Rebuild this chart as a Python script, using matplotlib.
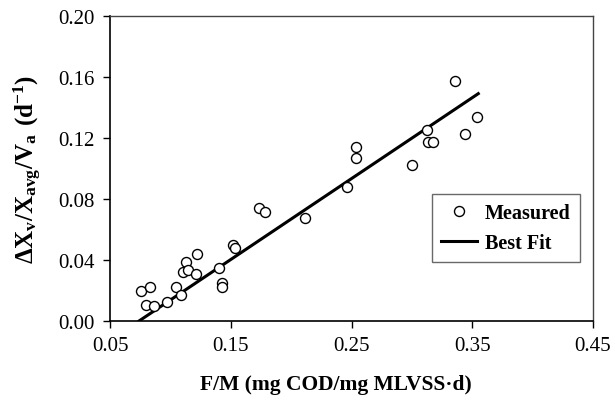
import matplotlib
matplotlib.use("Agg")
import matplotlib.pyplot as plt
import numpy as np

# Measured data (F/M, specific growth)
fm = [0.0757, 0.0831, 0.0796, 0.0865, 0.0970, 0.1050, 0.1086, 0.1130, 0.1107, 0.1146,
      0.1215, 0.1223, 0.1400, 0.1425, 0.1428, 0.1522, 0.1536, 0.1737, 0.1782, 0.2118,
      0.2464, 0.2538, 0.2538, 0.3000, 0.3126, 0.3137, 0.3174, 0.3358, 0.3440, 0.3540]
growth = [0.0195, 0.0225, 0.0105, 0.0100, 0.0124, 0.0225, 0.0168, 0.0388, 0.0323, 0.0336,
          0.0306, 0.0437, 0.0345, 0.0251, 0.0225, 0.0500, 0.0478, 0.0739, 0.0713, 0.0673,
          0.0876, 0.1142, 0.1068, 0.1020, 0.1250, 0.1170, 0.1170, 0.1570, 0.1223, 0.1334]

# Best-fit line
fit_slope = 0.530
fit_x0 = 0.074          # x-intercept
fit_range = [0.074, 0.355]

x_ticks = [0.05, 0.15, 0.25, 0.35, 0.45]
y_ticks = [0.00, 0.04, 0.08, 0.12, 0.16, 0.20]

plt.rcParams['font.family'] = ['Liberation Serif', 'DejaVu Serif']
plt.rcParams['mathtext.fontset'] = 'custom'
plt.rcParams['mathtext.rm'] = 'Liberation Serif'
plt.rcParams['mathtext.bf'] = 'Liberation Serif:bold'

fig = plt.figure(figsize=(6.15, 4.1), dpi=100)
ax = fig.add_axes([0.1789, 0.2146, 0.9642 - 0.1789, 0.9593 - 0.2146])

ax.plot(fm, growth, linestyle='none', marker='o', markersize=7.2,
        markerfacecolor='white', markeredgecolor='black', markeredgewidth=1.0,
        label='Measured', zorder=3)
xf = np.array(fit_range)
yf = fit_slope * (xf - fit_x0)
ax.plot(xf, yf, color='black', linewidth=2.2, label='Best Fit', zorder=2)

ax.set_xlim(0.05, 0.45)
ax.set_ylim(0.0, 0.20)
ax.set_xticks(x_ticks)
ax.set_xticklabels([f"{v:.2f}" for v in x_ticks])
ax.set_yticks(y_ticks)
ax.set_yticklabels([f"{v:.2f}" for v in y_ticks])
ax.tick_params(direction='out', length=5, width=1, labelsize=15, pad=6, colors='black')

for s in ['left', 'bottom']:
    ax.spines[s].set_color('black')
    ax.spines[s].set_linewidth(1.2)
for s in ['top', 'right']:
    ax.spines[s].set_color('#444444')
    ax.spines[s].set_linewidth(1.0)

ax.set_xlabel('F/M (mg COD/mg MLVSS·d)', fontsize=15.5, fontweight='bold')
ax.xaxis.set_label_coords(0.468, -0.175)
ax.set_ylabel(r'$\mathbf{\Delta X_v/X_{avg}/V_a\ (d^{-1})}$', fontsize=18, labelpad=10)

leg = ax.legend(loc='lower right', bbox_to_anchor=(0.973, 0.193), borderaxespad=0,
                prop={'weight': 'bold', 'size': 14.5}, frameon=True, fancybox=False,
                edgecolor='#444444', borderpad=0.45, handlelength=1.8, handletextpad=0.4,
                labelspacing=0.5, markerscale=1.0)
leg.get_frame().set_linewidth(1.0)

fig.savefig('out.png', dpi=100)
